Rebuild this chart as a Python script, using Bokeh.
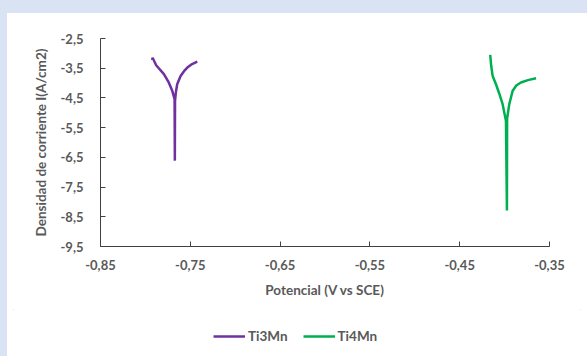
from bokeh.plotting import figure
from bokeh.layouts import column
from bokeh.models import FixedTicker, Legend, LegendItem, GlobalInlineStyleSheet, Range1d
from bokeh.embed import file_html
from bokeh.resources import INLINE

# Data
ti3mn_x = [-0.7925, -0.7920, -0.7880, -0.7794, -0.7740, -0.7701, -0.7675, -0.7672, -0.7670,
           -0.7660, -0.7646, -0.7608, -0.7570, -0.7533, -0.7480, -0.7422]
ti3mn_y = [-3.22, -3.15, -3.40, -3.70, -3.98, -4.26, -4.54, -6.61, -4.60,
           -4.30, -4.04, -3.76, -3.60, -3.48, -3.36, -3.28]
ti4mn_x = [-0.4160, -0.4150, -0.4133, -0.4096, -0.4060, -0.4022, -0.3985, -0.3974, -0.3972,
           -0.3960, -0.3948, -0.3910, -0.3870, -0.3818, -0.3740, -0.3650]
ti4mn_y = [-3.05, -3.40, -3.76, -4.04, -4.35, -4.71, -5.27, -8.29, -5.20,
           -4.95, -4.71, -4.26, -4.08, -3.98, -3.90, -3.84]

x_ticks = [-0.85, -0.75, -0.65, -0.55, -0.45, -0.35]
x_labels = ["-0,85", "-0,75", "-0,65", "-0,55", "-0,45", "-0,35"]
y_ticks = [-9.5, -8.5, -7.5, -6.5, -5.5, -4.5, -3.5, -2.5]
y_labels = ["-9,5", "-8,5", "-7,5", "-6,5", "-5,5", "-4,5", "-3,5", "-2,5"]

series_names = ["Ti3Mn", "Ti4Mn"]
series_colors = ["#7030a0", "#00b050"]

TEXT = "#595959"
FONT = "Lato"

fig = figure(width=580, height=296, min_border_left=93, min_border_right=38,
             min_border_top=25, min_border_bottom=63,
             x_range=Range1d(-0.85, -0.35), y_range=Range1d(-9.5, -2.5),
             output_backend="svg", toolbar_location=None,
             border_fill_color="white", background_fill_color="white")
fig.outline_line_color = None
fig.grid.visible = False

fig.line(ti3mn_x, ti3mn_y, line_color=series_colors[0], line_width=2.5)
fig.line(ti4mn_x, ti4mn_y, line_color=series_colors[1], line_width=2.5)

for ax in (fig.xaxis[0], fig.yaxis[0]):
    ax.axis_line_color = "#404040"
    ax.major_tick_line_color = "#404040"
    ax.major_tick_in = 5
    ax.major_tick_out = 0
    ax.minor_tick_line_color = None
    ax.major_label_text_font = FONT
    ax.major_label_text_font_style = "bold"
    ax.major_label_text_font_size = "13px"
    ax.major_label_text_color = TEXT
    ax.axis_label_text_font = FONT
    ax.axis_label_text_font_style = "bold"
    ax.axis_label_text_font_size = "13.5px"
    ax.axis_label_text_color = TEXT

fig.xaxis[0].ticker = FixedTicker(ticks=x_ticks)
fig.xaxis[0].major_label_overrides = dict(zip(x_ticks, x_labels))
fig.xaxis[0].axis_label = "Potencial (V vs SCE)"
fig.xaxis[0].major_label_standoff = 13
fig.xaxis[0].axis_label_standoff = 9

fig.yaxis[0].ticker = FixedTicker(ticks=y_ticks)
fig.yaxis[0].major_label_overrides = dict(zip(y_ticks, y_labels))
fig.yaxis[0].axis_label = "Densidad de corriente I(A/cm2)"
fig.yaxis[0].major_label_standoff = 17
fig.yaxis[0].axis_label_standoff = 9

# Legend strip below the chart (same series, drawn outside this strip's view)
leg = figure(width=580, height=55, min_border=0, output_backend="svg", toolbar_location=None,
             x_range=Range1d(0, 1), y_range=Range1d(0, 1),
             border_fill_color="white", background_fill_color="white")
leg.outline_line_color = None
leg.axis.visible = False
leg.grid.visible = False
g1 = leg.line(ti3mn_x, ti3mn_y, line_color=series_colors[0], line_width=2.5)
g2 = leg.line(ti4mn_x, ti4mn_y, line_color=series_colors[1], line_width=2.5)
legend = Legend(items=[LegendItem(label=series_names[0], renderers=[g1]),
                       LegendItem(label=series_names[1], renderers=[g2])],
                orientation="horizontal", location=(113, 19),
                padding=0, margin=0, spacing=15, glyph_width=32, glyph_height=18,
                label_standoff=3, label_text_font=FONT, label_text_font_style="bold",
                label_text_font_size="13.5px", label_text_color=TEXT,
                border_line_color=None, background_fill_alpha=0)
leg.add_layout(legend, "center")

p = column(fig, leg, spacing=0, margin=(13, 0, 0, 7),
           styles={"background-color": "white", "outline": "1px solid #dcdcdc",
                   "outline-offset": "-7px"})
p.stylesheets = [GlobalInlineStyleSheet(css="html, body { background: #dae3f3; overflow: hidden; }")]
open("out.html", "w").write(file_html(p, INLINE))
